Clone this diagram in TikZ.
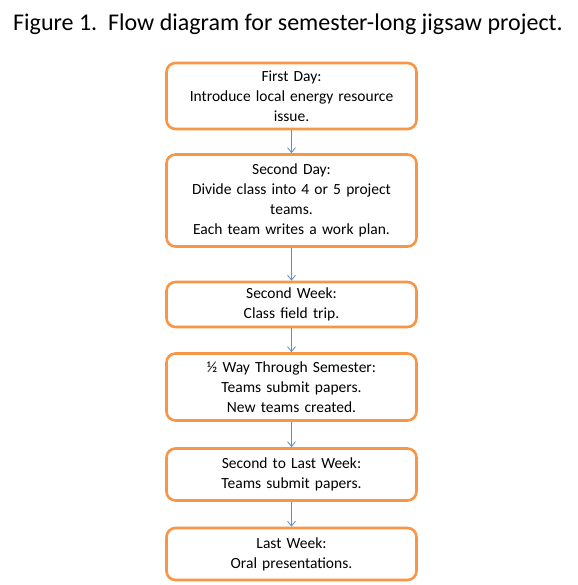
\documentclass[tikz,border=0pt]{standalone}
\usepackage{fontspec}
\setmainfont{Carlito}
\usetikzlibrary{arrows.meta}
\definecolor{boxorange}{HTML}{F79646}
\definecolor{arrowblue}{HTML}{5B8FD0}
\begin{document}
\begin{tikzpicture}[x=1pt,y=-1pt,font=\fontsize{15.5}{20}\selectfont,
    stage/.style={draw=boxorange,line width=2.6pt,rounded corners=9pt,fill=white,
        align=center,text width=240pt,minimum width=250pt,inner sep=3pt},
    flow/.style={-{Straight Barb[length=5pt,width=8pt]},arrowblue,line width=0.8pt}]
    \useasboundingbox (0,0) rectangle (577,585);

    \node[font=\fontsize{24}{26}\selectfont] (title) at (288,24) {Figure 1.\ \ Flow diagram for semester-long jigsaw project.};

    \node[stage,minimum height=66pt] (firstday) at (291.5,96) {First Day:\\ Introduce local energy resource\\ issue.};
    \node[stage,minimum height=92pt] (secondday) at (291.5,200.5) {Second Day:\\ Divide class into 4 or 5 project\\ teams.\\ Each team writes a work plan.};
    \node[stage,minimum height=45pt] (secondweek) at (291.5,304.5) {Second Week:\\ Class field trip.};
    \node[stage,minimum height=67pt] (halfway) at (291.5,387) {½ Way Through Semester:\\ Teams submit papers.\\ New teams created.};
    \node[stage,minimum height=52pt] (penultimate) at (291.5,474.5) {Second to Last Week:\\ Teams submit papers.};
    \node[stage,minimum height=52pt] (lastweek) at (291.5,554) {Last Week:\\ Oral presentations.};

    \draw[flow] (firstday) -- (secondday);
    \draw[flow] (secondday) -- (secondweek);
    \draw[flow] (secondweek) -- (halfway);
    \draw[flow] (halfway) -- (penultimate);
    \draw[flow] (penultimate) -- (lastweek);

\end{tikzpicture}
\end{document}
